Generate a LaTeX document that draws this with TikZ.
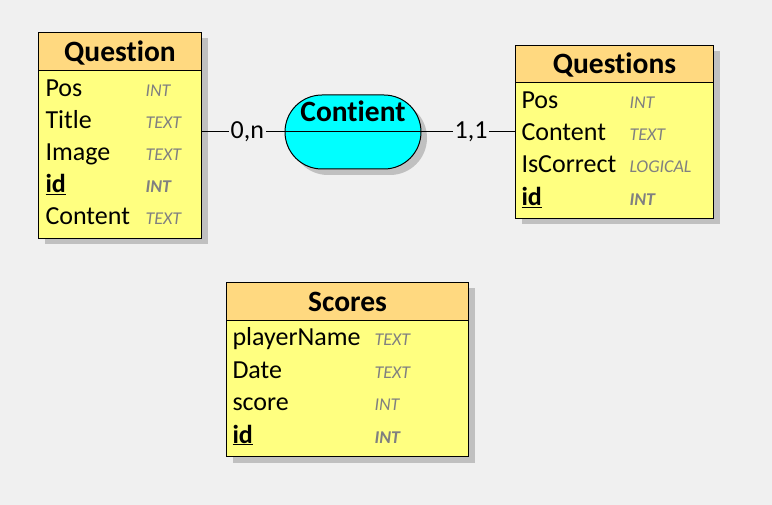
\documentclass[tikz,border=0pt]{standalone}
\usepackage{fontspec}
\setmainfont{Carlito}[Ligatures={NoCommon,NoContextual}]
\usetikzlibrary{positioning, shadows, calc}

\definecolor{bgcol}{RGB}{240,240,240}
\definecolor{headcol}{RGB}{255,217,128}
\definecolor{bodycol}{RGB}{255,255,128}
\definecolor{shadecol}{RGB}{192,192,192}
\definecolor{typecol}{RGB}{128,128,128}
\definecolor{assoccol}{RGB}{0,255,255}

\begin{document}
\begin{tikzpicture}[
    x=1pt, y=-1pt,
    line width=1pt,
    shade/.style={drop shadow={shadow xshift=6pt, shadow yshift=-6pt, fill=shadecol, opacity=1}},
    tbl/.style={draw, fill=bodycol, shade, inner sep=0pt, anchor=north west},
    thead/.style={draw, fill=headcol, inner sep=0pt, anchor=north west, text height=20pt, text depth=0pt, font=\fontsize{29.5}{32}\selectfont\bfseries},
    fname/.style={anchor=base west, inner sep=0pt, font=\fontsize{26}{28}\selectfont},
    ftype/.style={anchor=base west, inner sep=0pt, text=typecol, font=\fontsize{18}{20}\selectfont\itshape},
    fkey/.style={ftype, font=\fontsize{18}{20}\selectfont\itshape\bfseries},
    assoc/.style={draw, fill=assoccol, shade, rounded corners=37pt, minimum width=136pt, minimum height=74pt, inner sep=0pt},
    card/.style={fill=bgcol, inner sep=2pt, font=\fontsize{26}{28}\selectfont},
]

\useasboundingbox[fill=bgcol] (0,0) rectangle (772,505);

% === TABLE Question ===
\node[tbl, minimum width=163, minimum height=206] (question) at (38,32) {};
\node[thead, minimum width=163, minimum height=38] (question-h) at (question.north west) {Question};
\node[fname] (question-pos) at (45,97) {Pos};
\node[ftype] (question-pos-t) at (145,97) {INT};
\node[fname] (question-title) at (45,129) {Title};
\node[ftype] (question-title-t) at (145,129) {TEXT};
\node[fname] (question-image) at (45,161) {Image};
\node[ftype] (question-image-t) at (145,161) {TEXT};
\node[fname] (question-id) at (45,193) {\underline{\textbf{id}}};
\node[fkey] (question-id-t) at (145,193) {INT};
\node[fname] (question-content) at (45,225) {Content};
\node[ftype] (question-content-t) at (145,225) {TEXT};

% === TABLE Questions ===
\node[tbl, minimum width=198, minimum height=173] (questions) at (515,45) {};
\node[thead, minimum width=198, minimum height=37] (questions-h) at (questions.north west) {Questions};
\node[fname] (questions-pos) at (521,109) {Pos};
\node[ftype] (questions-pos-t) at (629,109) {INT};
\node[fname] (questions-content) at (521,141) {Content};
\node[ftype] (questions-content-t) at (629,141) {TEXT};
\node[fname] (questions-iscorrect) at (521,173) {IsCorrect};
\node[ftype] (questions-iscorrect-t) at (629,173) {LOGICAL};
\node[fname] (questions-id) at (521,206) {\underline{\textbf{id}}};
\node[fkey] (questions-id-t) at (629,206) {INT};

% === TABLE Scores ===
\node[tbl, minimum width=242, minimum height=174] (scores) at (226,282) {};
\node[thead, minimum width=242, minimum height=38] (scores-h) at (scores.north west) {Scores};
\node[fname] (scores-player) at (232,346) {playerName};
\node[ftype] (scores-player-t) at (374,346) {TEXT};
\node[fname] (scores-date) at (232,378) {Date};
\node[ftype] (scores-date-t) at (374,378) {TEXT};
\node[fname] (scores-score) at (232,410) {score};
\node[ftype] (scores-score-t) at (374,410) {INT};
\node[fname] (scores-id) at (232,443) {\underline{\textbf{id}}};
\node[fkey] (scores-id-t) at (374,443) {INT};

% === ASSOCIATION Contient ===
\node[assoc] (contient) at (353,132) {};
\draw (contient.west) -- (contient.east);
\node[anchor=base, inner sep=0pt, font=\fontsize{29.5}{32}\selectfont\bfseries] (contient-t) at (353,122) {Contient};

% Links
\draw (question.east |- contient.west) -- node[card, pos=0.55] {0,n} (contient.west);
\draw (contient.east) -- node[card, pos=0.53] {1,1} (contient.east -| questions.west);

\end{tikzpicture}
\end{document}
